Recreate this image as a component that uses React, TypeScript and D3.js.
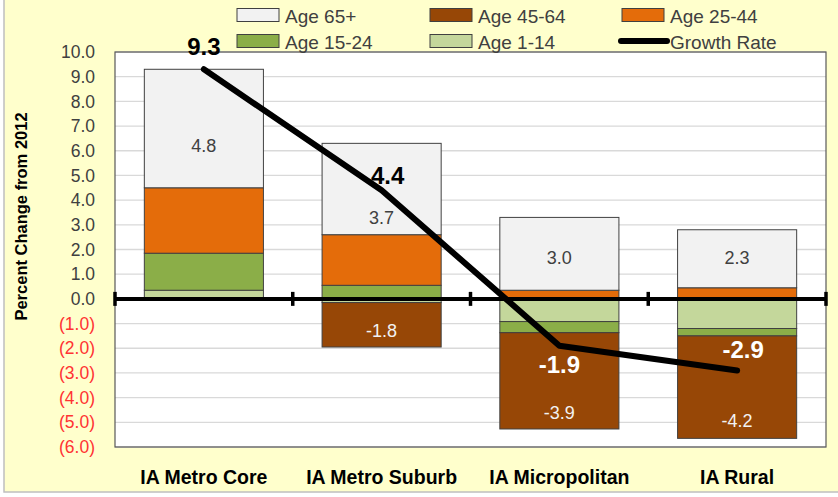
import * as d3 from "d3";

const regions = ["IA Metro Core", "IA Metro Suburb", "IA Micropolitan", "IA Rural"];
// stacking order, bottom to top (Excel series order)
const seriesKeys = ["Age 1-14", "Age 15-24", "Age 25-44", "Age 45-64", "Age 65+"];
const age1to14 = [0.35, -0.15, -0.92, -1.2];
const age15to24 = [1.5, 0.55, -0.45, -0.3];
const age25to44 = [2.65, 2.05, 0.35, 0.45];
const age45to64 = [0, -1.8, -3.9, -4.15];
const age65plus = [4.8, 3.7, 2.95, 2.35];
const growthRate = [9.3, 4.4, -1.9, -2.9];

// where each data label sits (value units)
const segLabelText = [
  { region: "IA Metro Core", text: "4.8", at: 6.2, light: false },
  { region: "IA Metro Suburb", text: "3.7", at: 3.3, light: false },
  { region: "IA Micropolitan", text: "3.0", at: 1.65, light: false },
  { region: "IA Rural", text: "2.3", at: 1.65, light: false },
  { region: "IA Metro Suburb", text: "-1.8", at: -1.3, light: true },
  { region: "IA Micropolitan", text: "-3.9", at: -4.6, light: true },
  { region: "IA Rural", text: "-4.2", at: -4.95, light: true },
];
const growthLabelAt = [10.2, 5.0, -2.68, -2.07];
const growthLabelShift = [0, 6, 0, 6];

const yTicks = d3.range(-6, 11, 1);

const colors: Record<string, string> = {
  "Age 65+": "#F2F2F2",
  "Age 45-64": "#974706",
  "Age 25-44": "#E46C0A",
  "Age 15-24": "#8BAE48",
  "Age 1-14": "#C4D79B",
};

const legendItems = [
  { name: "Age 65+", col: 0, row: 0 },
  { name: "Age 45-64", col: 1, row: 0 },
  { name: "Age 25-44", col: 2, row: 0 },
  { name: "Age 15-24", col: 0, row: 1 },
  { name: "Age 1-14", col: 1, row: 1 },
  { name: "Growth Rate", col: 2, row: 1 },
];

const W = 838;
const H = 497;
const plot = { left: 115, right: 826, top: 52, bottom: 447 };
const font = "'Liberation Sans', Arial, sans-serif";

export default function App() {
  const rows = regions.map((r, i) => ({
    region: r,
    "Age 1-14": age1to14[i],
    "Age 15-24": age15to24[i],
    "Age 25-44": age25to44[i],
    "Age 45-64": age45to64[i],
    "Age 65+": age65plus[i],
  }));

  const stacked = d3
    .stack<any>()
    .keys(seriesKeys)
    .offset(d3.stackOffsetDiverging)(rows);

  const x = d3
    .scaleBand()
    .domain(regions)
    .range([plot.left, plot.right])
    .paddingInner(0.33)
    .paddingOuter(0.165);
  const y = d3.scaleLinear().domain([-6, 10]).range([plot.bottom, plot.top]);
  const cx = (r: string) => (x(r) as number) + x.bandwidth() / 2;

  const line = d3
    .line<number>()
    .x((_, i) => cx(regions[i]))
    .y((d) => y(d));

  const bounds = d3.range(regions.length + 1).map((i) => plot.left + i * x.step());

  const fmt = (v: number) => (v < 0 ? `(${Math.abs(v).toFixed(1)})` : v.toFixed(1));

  const legendX = [237, 430, 622];
  const legendY = [15, 41];

  return (
    <svg
      width={W}
      height={H}
      style={{ position: "absolute", left: 0, top: 0, fontFamily: font }}
    >
      <rect x={4} y={-4} width={W + 10} height={H - 1} fill="#FFFFCC" stroke="#BFBFBF" strokeWidth={1.5} />
      <rect x={plot.left} y={plot.top} width={plot.right - plot.left} height={plot.bottom - plot.top} fill="#fff" />

      {yTicks.map((t) => (
        <line key={t} x1={plot.left} x2={plot.right} y1={y(t)} y2={y(t)} stroke="#D9D9D9" strokeWidth={1.3} />
      ))}
      <rect
        x={plot.left}
        y={plot.top}
        width={plot.right - plot.left}
        height={plot.bottom - plot.top}
        fill="none"
        stroke="#595959"
        strokeWidth={1.2}
      />

      {yTicks.map((t) => (
        <text
          key={t}
          x={95}
          y={y(t)}
          dy="0.35em"
          textAnchor="end"
          fontSize={17.5}
          fill={t < 0 ? "#FF3333" : "#404040"}
        >
          {fmt(t)}
        </text>
      ))}

      <text
        transform={`translate(21,${(plot.top + plot.bottom) / 2 - 33}) rotate(-90)`}
        textAnchor="middle"
        dy="0.35em"
        fontSize={16.5}
        fontWeight="bold"
        fill="#000"
      >
        Percent Change from 2012
      </text>

      {stacked.map((s) =>
        s.map((d, i) =>
          d[1] - d[0] === 0 ? null : (
            <rect
              key={s.key + i}
              x={x(regions[i])}
              y={y(d[1])}
              width={x.bandwidth()}
              height={y(d[0]) - y(d[1])}
              fill={colors[s.key]}
              stroke="#404040"
              strokeWidth={1}
            />
          )
        )
      )}

      {segLabelText.map((l, i) => (
        <text
          key={i}
          x={cx(l.region)}
          y={y(l.at)}
          dy="0.35em"
          textAnchor="middle"
          fontSize={18}
          fill={l.light ? "#F2F2F2" : "#404040"}
        >
          {l.text}
        </text>
      ))}

      <line x1={plot.left} x2={plot.right} y1={y(0)} y2={y(0)} stroke="#000" strokeWidth={4} />
      {bounds.map((b, i) => (
        <line key={i} x1={b} x2={b} y1={y(0) - 7} y2={y(0) + 7} stroke="#000" strokeWidth={3.5} />
      ))}

      <path
        d={line(growthRate) as string}
        fill="none"
        stroke="#000"
        strokeWidth={6}
        strokeLinejoin="round"
        strokeLinecap="round"
      />
      {growthRate.map((g, i) => (
        <text
          key={i}
          x={cx(regions[i]) + growthLabelShift[i]}
          y={y(growthLabelAt[i])}
          dy="0.35em"
          textAnchor="middle"
          fontSize={24}
          fontWeight="bold"
          fill={g < 0 ? "#fff" : "#000"}
        >
          {g.toFixed(1)}
        </text>
      ))}

      {regions.map((r) => (
        <text key={r} x={cx(r)} y={477} dy="0.35em" textAnchor="middle" fontSize={19.5} fontWeight="bold" fill="#000">
          {r}
        </text>
      ))}

      {legendItems.map((l) => {
        const lx = legendX[l.col];
        const ly = legendY[l.row];
        return (
          <g key={l.name}>
            {l.name === "Growth Rate" ? (
              <line x1={lx - 1} x2={lx + 45} y1={ly} y2={ly} stroke="#000" strokeWidth={6} strokeLinecap="round" />
            ) : (
              <rect x={lx} y={ly - 6.5} width={42} height={13} fill={colors[l.name]} stroke="#404040" strokeWidth={1} />
            )}
            <text x={lx + 48} y={ly + 1} dy="0.35em" fontSize={19} fill="#404040">
              {l.name}
            </text>
          </g>
        );
      })}
    </svg>
  );
}
